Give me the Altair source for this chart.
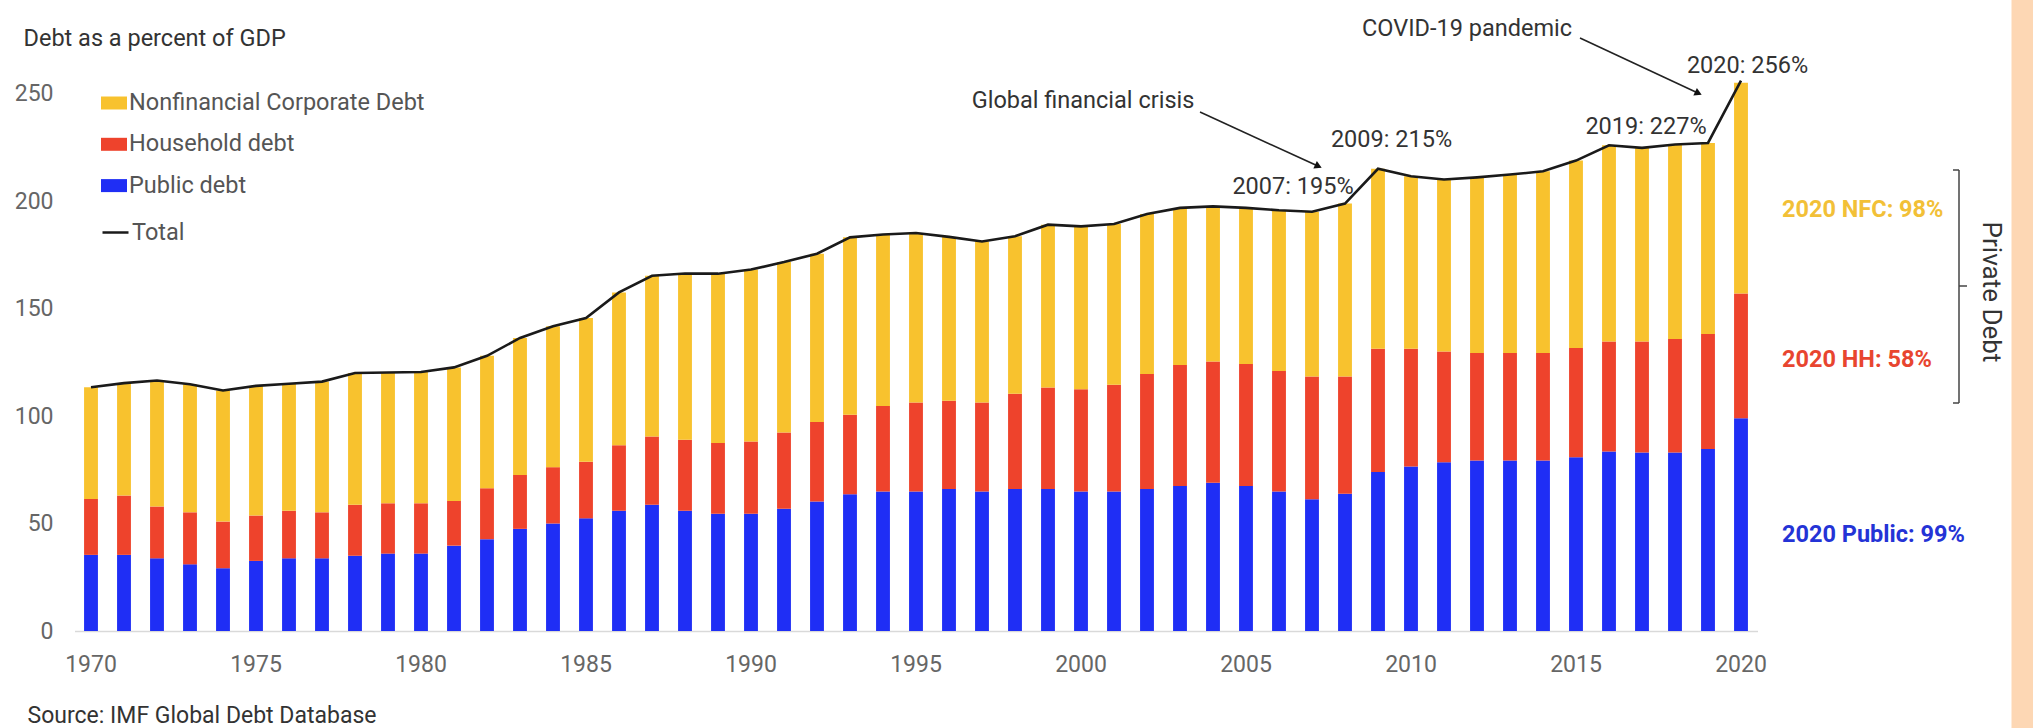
import altair as alt
import pandas as pd

# ---- data: debt as a percent of GDP, 1970-2020 ----
years = list(range(1970, 2021))

public_debt = [
    35.4, 35.4, 33.8, 31.0, 29.2, 32.6, 33.8, 33.8, 35.0, 36.0,
    36.0, 39.7, 42.7, 47.5, 50.0, 52.4, 55.9, 58.7, 55.9, 54.5,
    54.5, 56.9, 60.2, 63.6, 64.9, 64.9, 66.0, 64.9, 66.0, 66.0,
    64.9, 64.9, 66.0, 67.5, 69.0, 67.5, 64.9, 61.3, 63.8, 73.9,
    76.5, 78.5, 79.3, 79.3, 79.3, 80.8, 83.5, 83.0, 83.0, 84.7,
    99.0,
]

household_debt = [
    26.0, 27.6, 24.1, 24.2, 21.7, 21.1, 22.1, 21.4, 23.7, 23.4,
    23.4, 20.8, 23.7, 25.1, 26.2, 26.3, 30.5, 31.8, 33.0, 32.9,
    33.6, 35.4, 37.0, 37.0, 39.8, 41.4, 41.1, 41.4, 44.3, 47.3,
    47.6, 49.6, 53.5, 56.2, 56.4, 56.7, 56.0, 57.1, 54.6, 57.4,
    54.8, 51.5, 50.0, 50.0, 50.0, 50.8, 51.2, 51.7, 52.8, 53.4,
    58.0,
]

nonfinancial_corporate_debt = [
    52.0, 52.3, 58.6, 59.6, 61.0, 60.3, 59.1, 60.8, 61.3, 60.8,
    61.1, 62.1, 61.6, 63.7, 65.5, 66.9, 71.1, 74.7, 77.4, 78.8,
    80.0, 79.3, 78.3, 82.5, 79.7, 78.8, 76.2, 74.9, 73.3, 75.7,
    75.7, 74.8, 74.5, 73.1, 72.1, 72.6, 74.8, 76.6, 80.4, 83.7,
    80.2, 80.0, 81.7, 83.0, 84.5, 87.2, 91.2, 90.0, 90.5, 88.9,
    98.0,
]

total_debt = [
    113.4, 115.3, 116.5, 114.8, 111.9, 114.0, 115.0, 116.0, 120.0, 120.2,
    120.5, 122.6, 128.0, 136.3, 141.7, 145.6, 157.5, 165.2, 166.3, 166.2,
    168.1, 171.6, 175.5, 183.1, 184.4, 185.1, 183.3, 181.2, 183.6, 189.0,
    188.2, 189.3, 194.0, 196.8, 197.5, 196.8, 195.7, 195.0, 198.8, 215.0,
    211.5, 210.0, 211.0, 212.3, 213.8, 218.8, 225.9, 224.7, 226.3, 227.0,
    256.0,
]

series_names = ["Nonfinancial Corporate Debt", "Household debt", "Public debt"]
series_colors = ["#F8C22E", "#EE432C", "#1F2EF5"]
tick_years = list(range(1970, 2021, 5))

# ---- layout ----
FONT = "Roboto"
STEP = 33
PLOT_W = STEP * len(years)
PLOT_H = 559
LEFT, TOP = 74.5, 72
PADDING = {"left": LEFT, "top": TOP,
           "right": 2033 - LEFT - PLOT_W, "bottom": 728 - TOP - PLOT_H}

# ---- tables ----
rows = []
for i, yr in enumerate(years):
    for rank, (name, vals) in enumerate((("Public debt", public_debt),
                                         ("Household debt", household_debt),
                                         ("Nonfinancial Corporate Debt", nonfinancial_corporate_debt))):
        rows.append({"year": yr, "series": name, "value": vals[i], "rank": rank})
bars_df = pd.DataFrame(rows)
total_df = pd.DataFrame({"year": years, "total": total_debt, "label": "Total"})
one_row = pd.DataFrame({"k": [0]})

# ---- scales and axes ----
x_scale = alt.Scale(paddingInner=0.58, paddingOuter=0.29)
y_scale = alt.Scale(domain=[0, 260], nice=False)

x_axis = alt.Axis(
    values=tick_years, labelAngle=0, ticks=False, grid=False,
    labelPadding=22, labelColor="#666666", labelFontSize=23, labelFont=FONT,
    domainColor="#d9d9d9", domainWidth=1.5,
    title="Source: IMF Global Debt Database", titleX=-47.5, titleY=84,
    titleAlign="left", titleBaseline="middle", titleFontSize=23,
    titleFontWeight="normal", titleColor="#333333", titleFont=FONT,
)
y_axis = alt.Axis(
    values=[0, 50, 100, 150, 200, 250], ticks=False, domain=False, grid=False,
    labelPadding=21.5, labelColor="#666666", labelFontSize=23, labelFont=FONT,
    title="Debt as a percent of GDP", titleAngle=0, titleX=-51.5, titleY=-34,
    titleAlign="left", titleBaseline="middle", titleFontSize=23.5,
    titleFontWeight="normal", titleColor="#333333", titleFont=FONT,
)


def x_enc():
    return alt.X("year:O", scale=x_scale, axis=x_axis)


def y_enc(field):
    return alt.Y(field, scale=y_scale, axis=y_axis)


# ---- stacked bars ----
bars = alt.Chart(bars_df).mark_bar().encode(
    x=x_enc(),
    y=alt.Y("value:Q", stack="zero", scale=y_scale, axis=y_axis),
    color=alt.Color(
        "series:N",
        scale=alt.Scale(domain=series_names, range=series_colors),
        legend=alt.Legend(
            title=None, orient="none", direction="vertical",
            legendX=26.5, legendY=18, padding=0,
            symbolType="M-1,-0.5H1V0.5H-1Z", symbolSize=676,
            symbolStrokeWidth=0, symbolOpacity=1,
            labelFont=FONT, labelFontSize=23.5, labelColor="#555555",
            labelOffset=2, labelLimit=400, rowPadding=16.3,
        ),
    ),
    order=alt.Order("rank:Q", sort="ascending"),
)

# ---- total line ----
line = alt.Chart(total_df).mark_line(strokeWidth=2.6).encode(
    x=x_enc(),
    y=y_enc("total:Q"),
    color=alt.Color(
        "label:N",
        scale=alt.Scale(domain=["Total"], range=["#1a1a1a"]),
        legend=alt.Legend(
            title=None, orient="none", direction="vertical",
            legendX=26.5, legendY=146, padding=0,
            symbolType="stroke", symbolSize=676, symbolStrokeWidth=2.5,
            labelFont=FONT, labelFontSize=23.5, labelColor="#555555",
            labelOffset=2, labelLimit=400,
        ),
    ),
)


# ---- value call-outs on the total line ----
def value_note(year, dx, dy):
    return alt.Chart(total_df).transform_filter(
        alt.datum.year == year
    ).transform_calculate(
        note="datum.year + ': ' + format(datum.total, '.0f') + '%'"
    ).mark_text(
        dx=dx, dy=dy, font=FONT, fontSize=23.5, color="#333333",
        align="center", baseline="middle",
    ).encode(x=x_enc(), y=y_enc("total:Q"), text="note:N")


def event_note(text, year, dx, dy):
    return alt.Chart(total_df).transform_filter(
        alt.datum.year == year
    ).mark_text(
        text=text, dx=dx, dy=dy, font=FONT, fontSize=23.5, color="#333333",
        align="center", baseline="middle",
    ).encode(x=x_enc(), y=y_enc("total:Q"))


notes = [
    value_note(2007, -19, -24.75),
    value_note(2009, 13.5, -28.75),
    value_note(2019, -62, -16),
    value_note(2020, 6.5, -14.6),
    event_note("Global financial crisis", 2007, -229, -110.75),
    event_note("COVID-19 pandemic", 2020, -274, -51.6),
]


# ---- arrows from event labels ----
def segment(x1, y1, x2, y2, color="#222222", width=1.6):
    return alt.Chart(one_row).mark_rule(color=color, strokeWidth=width).encode(
        x=alt.value(x1), y=alt.value(y1), x2=alt.value(x2), y2=alt.value(y2))


def arrow_head(x, y, angle):
    return alt.Chart(one_row).mark_point(
        shape="triangle-right", filled=True, size=70, angle=angle,
        color="#111111", opacity=1,
    ).encode(x=alt.value(x), y=alt.value(y))


arrows = [
    segment(1125.5, 40, 1243.9, 94.3),
    arrow_head(1243.9, 94.3, 24.7),
    segment(1505.5, -34, 1623.9, 21.3),
    arrow_head(1623.9, 21.3, 25),
]

# ---- 2020 composition labels at the right ----
last = len(years) - 1
side = [
    ("2020 NFC: {:.0f}%".format(nonfinancial_corporate_debt[last]),
     public_debt[last] + household_debt[last] + nonfinancial_corporate_debt[last] / 2, 22, "#F2C037"),
    ("2020 HH: {:.0f}%".format(household_debt[last]),
     public_debt[last] + household_debt[last] / 2, 4, "#E8452F"),
    ("2020 Public: {:.0f}%".format(public_debt[last]),
     public_debt[last] / 2, 10, "#2433D6"),
]
side_labels = []
for text, mid, dy, col in side:
    df = pd.DataFrame({"year": [years[last]], "mid": [mid]})
    side_labels.append(
        alt.Chart(df).mark_text(
            text=text, dx=41, dy=dy, font=FONT, fontSize=23.5, fontWeight="bold",
            color=col, align="left", baseline="middle",
        ).encode(x=x_enc(), y=y_enc("mid:Q"))
    )

# ---- "Private Debt" bracket and edge strip ----
strip = alt.Chart(one_row).mark_rect(color="#FDD7B4").encode(
    x=alt.value(1937), x2=alt.value(1962), y=alt.value(-TOP), y2=alt.value(728 - TOP))

bracket = [
    segment(1884.5, 98, 1884.5, 331, color="#444444", width=1.5),
    segment(1878.5, 98, 1884.5, 98, color="#444444", width=1.5),
    segment(1878.5, 331, 1884.5, 331, color="#444444", width=1.5),
    segment(1884.5, 214, 1892.5, 214, color="#444444", width=1.5),
]

private_label = alt.Chart(one_row).mark_text(
    text="Private Debt", angle=90, font=FONT, fontSize=26, color="#333333",
    align="center", baseline="middle",
).encode(x=alt.value(1916), y=alt.value(220))

chart = alt.layer(
    strip, bars, line, *notes, *arrows, *side_labels, *bracket, private_label
).resolve_scale(
    color="independent"
).properties(
    width=PLOT_W, height=PLOT_H,
    autosize=alt.AutoSizeParams(type="none"),
    padding=PADDING,
    background="white",
).configure(
    font=FONT
).configure_view(
    stroke="transparent"
)

chart.save("out.html", embed_options={"renderer": "svg", "actions": False})
